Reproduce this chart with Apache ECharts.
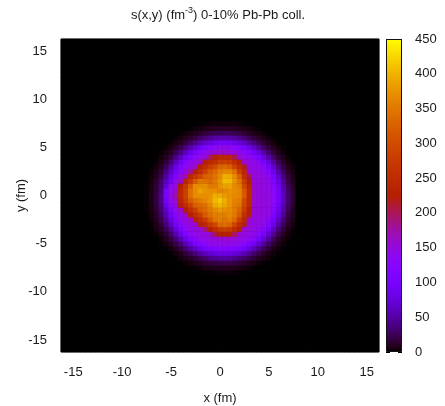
<!DOCTYPE html>
<html>
<head>
<meta charset="utf-8">
<script src="https://cdn.jsdelivr.net/npm/echarts@6/dist/echarts.min.js"></script>
<style>
  html, body { margin: 0; padding: 0; background: #fff; }
  #chart { width: 445px; height: 406px; }
</style>
</head>
<body>
<div id="chart"></div>
<script>
// Entropy density s(x,y) in fm^-3 on a 0.5 fm grid (centre of each cell).
// Cells outside this block are empty (s = 0).
const xCols = [-7.5,-7,-6.5,-6,-5.5,-5,-4.5,-4,-3.5,-3,-2.5,-2,-1.5,-1,-0.5,0,0.5,1,1.5,2,2.5,3,3.5,4,4.5,5,5.5,6,6.5,7,7.5];
const yRows = [8,7.5,7,6.5,6,5.5,5,4.5,4,3.5,3,2.5,2,1.5,1,0.5,0,-0.5,-1,-1.5,-2,-2.5,-3,-3.5,-4,-4.5,-5,-5.5,-6,-6.5,-7,-7.5,-8];
const sDensity = [
  [0,0,0,0,0,0,0,0,0,0,0,0,0,0,0,0,0,0,0,0,0,0,0,0,0,0,0,0,0,0,0],            // y = 8
  [0,0,0,0,0,0,0,0,0,0,0,1,1,2,3,3,3,3,3,2,1,0,0,0,0,0,0,0,0,0,0],            // y = 7.5
  [0,0,0,0,0,0,0,0,0,1,3,4,6,8,9,10,10,10,9,7,5,4,2,1,0,0,0,0,0,0,0],         // y = 7
  [0,0,0,0,0,0,0,1,3,5,8,12,16,20,24,25,26,25,22,19,15,10,7,4,2,0,0,0,0,0,0], // y = 6.5
  [0,0,0,0,0,0,2,4,8,13,20,28,36,44,50,53,54,52,48,41,33,25,18,11,6,3,1,0,0,0,0],
  [0,0,0,0,0,2,5,10,18,28,41,54,65,76,84,95,95,91,81,72,61,49,36,24,15,8,4,1,0,0,0],
  [0,0,0,0,2,5,12,22,35,53,69,87,103,115,133,142,142,140,128,110,97,81,63,46,30,17,9,4,1,0,0],
  [0,0,0,1,5,11,23,39,59,81,103,121,140,148,155,159,158,157,151,142,133,115,95,72,51,31,17,8,3,0,0],
  [0,0,1,4,9,20,38,61,87,111,133,145,155,191,226,242,242,238,205,157,145,141,126,103,77,52,30,15,7,2,0],
  [0,0,2,7,16,33,57,85,114,138,148,158,223,245,257,279,280,275,249,224,157,147,144,129,103,73,47,26,12,4,1],
  [0,1,4,11,26,48,78,109,137,145,164,226,250,278,297,330,336,325,288,251,220,150,147,144,127,97,65,38,19,8,3],
  [0,2,6,16,36,63,98,129,150,176,228,254,282,318,334,356,363,362,342,283,242,160,150,147,141,117,84,52,27,12,4],
  [0,3,9,23,47,78,114,149,170,240,271,289,322,329,344,368,398,394,367,323,255,205,150,149,146,133,101,65,36,17,6],
  [0,4,12,30,58,93,146,161,238,274,317,347,342,336,350,374,407,405,376,344,279,227,155,150,148,141,114,78,45,21,8],
  [1,5,15,35,65,133,154,225,270,319,368,367,370,352,352,373,387,387,365,355,292,242,158,150,149,144,125,87,52,26,10],
  [1,5,16,37,100,143,160,242,282,341,367,387,374,372,372,361,366,374,369,362,316,248,160,150,149,145,130,93,57,29,12],
  [1,6,18,40,105,145,176,246,286,342,368,370,369,373,394,393,381,372,365,362,318,249,161,150,150,146,133,97,60,31,13], // y = 0
  [1,6,18,40,95,141,158,238,275,320,342,353,363,375,403,416,396,374,360,354,297,248,160,150,150,146,133,97,60,31,13],
  [1,5,16,38,79,126,151,220,250,284,323,331,342,362,392,402,389,374,356,345,292,245,158,150,149,145,129,91,56,28,11],
  [1,5,14,34,63,105,143,158,226,254,284,320,332,354,366,378,371,367,353,330,278,229,156,150,149,144,123,85,51,25,9],
  [0,4,11,28,55,90,126,147,160,227,252,280,317,341,357,356,357,365,350,318,255,220,151,150,147,141,112,76,44,20,8],
  [0,3,9,22,45,76,112,141,148,160,224,248,277,316,344,357,346,357,335,284,243,167,150,149,145,130,97,63,34,15,5],
  [0,2,6,16,34,60,94,126,144,148,157,220,243,274,293,334,339,330,290,252,220,153,149,146,140,114,81,50,26,11,4],
  [0,1,4,11,24,45,73,104,133,144,148,153,188,228,251,277,282,277,249,224,157,149,147,142,123,92,61,35,17,6,2],
  [0,0,2,5,14,30,54,82,109,133,144,147,149,157,199,226,229,227,199,156,148,146,141,124,98,69,44,24,10,4,1],
  [0,0,0,3,8,19,34,56,82,106,127,142,145,147,148,154,155,155,150,146,144,139,119,96,71,47,27,13,5,2,0],
  [0,0,0,1,4,10,20,34,55,75,98,115,130,140,143,144,144,143,142,135,124,108,88,66,46,29,15,7,3,0,0],
  [0,0,0,0,1,4,10,19,32,47,63,80,95,106,114,118,119,117,111,102,89,74,57,40,26,15,7,3,1,0,0],
  [0,0,0,0,0,1,4,8,15,25,36,48,59,68,75,80,81,79,73,65,55,44,31,21,12,6,3,1,0,0,0],
  [0,0,0,0,0,0,1,4,7,11,17,25,31,39,44,47,48,46,42,35,29,22,15,9,5,3,1,0,0,0,0],
  [0,0,0,0,0,0,0,0,2,4,7,10,14,17,19,21,22,21,19,16,12,9,6,3,1,0,0,0,0,0,0],
  [0,0,0,0,0,0,0,0,0,1,2,3,5,6,7,8,8,8,7,5,4,3,1,0,0,0,0,0,0,0,0],
  [0,0,0,0,0,0,0,0,0,0,0,0,1,1,2,2,3,2,2,1,0,0,0,0,0,0,0,0,0,0,0]            // y = -8
];
const axisTicks = [-15, -10, -5, 0, 5, 10, 15];
const colorbarTicks = [0, 50, 100, 150, 200, 250, 300, 350, 400, 450];
const sMin = 0, sMax = 450;

// Full transverse plane: -16 .. 16 fm in 0.5 fm cells
const gridCells = [];
for (let k = -32; k <= 32; k++) gridCells.push(String(k / 2));

const cellValue = new Map();
yRows.forEach((y, j) => xCols.forEach((x, i) => cellValue.set(x + ',' + y, sDensity[j][i])));
const heatData = [];
gridCells.forEach((xs, i) => gridCells.forEach((ys, j) => {
  const v = cellValue.get(Number(xs) + ',' + Number(ys));
  heatData.push([i, j, v === undefined ? 0 : v]);
}));

// gnuplot's traditional pm3d palette (rgbformulae 7,5,15)
function pm3d(t) {
  const r = Math.sqrt(t), g = t * t * t, b = Math.max(0, Math.sin(2 * Math.PI * t));
  const h = c => Math.round(Math.min(1, Math.max(0, c)) * 255).toString(16).padStart(2, '0');
  return '#' + h(r) + h(g) + h(b);
}
const paletteColors = [];
const gradientStops = [];
for (let i = 0; i <= 90; i++) {
  paletteColors.push(pm3d(i / 90));
  gradientStops.push({ offset: i / 90, color: pm3d(i / 90) });
}

const FONT = '"Liberation Sans", Arial, Helvetica, sans-serif';
const INK = '#1a1a1a';
const showTick = (idx, val) => axisTicks.includes(Number(val));

const chart = echarts.init(document.getElementById('chart'), null, { renderer: 'canvas' });
chart.setOption({
  animation: false,
  backgroundColor: '#fff',
  textStyle: { fontFamily: FONT },
  graphic: [{
    type: 'text',
    x: 218, y: 15,
    style: {
      text: '{t|s(x,y) (fm}{s|-3}{t|) 0-10% Pb-Pb coll.}',
      textAlign: 'center',
      textVerticalAlign: 'middle',
      rich: {
        t: { fontSize: 13, fontFamily: FONT, fill: INK, color: INK },
        s: { fontSize: 9, fontFamily: FONT, fill: INK, color: INK, padding: [0, 0, 9, 0] }
      }
    }
  }],
  grid: [
    { left: 61, top: 39, width: 318, height: 313, outerBoundsMode: 'none', containLabel: false,
      show: true, backgroundColor: '#000', borderColor: '#222', borderWidth: 1 },
    { left: 386, top: 39, width: 16, height: 313, outerBoundsMode: 'none', containLabel: false }
  ],
  xAxis: [
    {
      type: 'category', gridIndex: 0, data: gridCells,
      axisLine: { show: false }, axisTick: { show: false }, splitLine: { show: false },
      axisLabel: { interval: showTick, margin: 14, fontSize: 13, color: INK, fontFamily: FONT },
      name: 'x (fm)', nameLocation: 'middle', nameGap: 40, nameMoveOverlap: false,
      nameTextStyle: { fontSize: 13, color: INK, fontFamily: FONT }
    },
    { type: 'category', gridIndex: 1, data: ['s'], show: false }
  ],
  yAxis: [
    {
      type: 'category', gridIndex: 0, data: gridCells,
      axisLine: { show: false }, axisTick: { show: false }, splitLine: { show: false },
      axisLabel: { interval: showTick, margin: 14, fontSize: 13, color: INK, fontFamily: FONT },
      name: 'y (fm)', nameLocation: 'middle', nameGap: 33, nameRotate: 90, nameMoveOverlap: false,
      nameTextStyle: { fontSize: 13, color: INK, fontFamily: FONT }
    },
    {
      type: 'value', gridIndex: 1, position: 'right', min: sMin, max: sMax, interval: 50,
      axisLine: { show: false }, splitLine: { show: false },
      axisTick: { show: true, inside: true, length: 4, lineStyle: { color: '#000', width: 1 } },
      axisLabel: { margin: 13, fontSize: 13, color: INK, fontFamily: FONT,
                   formatter: v => colorbarTicks.includes(v) ? String(v) : '' }
    },
    {
      type: 'value', gridIndex: 1, position: 'left', min: sMin, max: sMax, interval: 50,
      axisLine: { show: false }, splitLine: { show: false }, axisLabel: { show: false },
      axisTick: { show: true, inside: true, length: 4, lineStyle: { color: '#000', width: 1 } }
    }
  ],
  visualMap: {
    type: 'continuous', show: false, seriesIndex: 0, dimension: 2,
    min: sMin, max: sMax, inRange: { color: paletteColors }
  },
  series: [
    {
      type: 'heatmap', xAxisIndex: 0, yAxisIndex: 0, data: heatData,
      progressive: 0, itemStyle: { borderWidth: 0 },
      emphasis: { disabled: true }, silent: true
    },
    {
      type: 'bar', xAxisIndex: 1, yAxisIndex: 1, data: [sMax], barWidth: '100%', silent: true, z: 1,
      itemStyle: {
        color: new echarts.graphic.LinearGradient(0, 1, 0, 0, gradientStops),
        borderColor: '#111', borderWidth: 1
      }
    }
  ]
});
</script>
</body>
</html>
